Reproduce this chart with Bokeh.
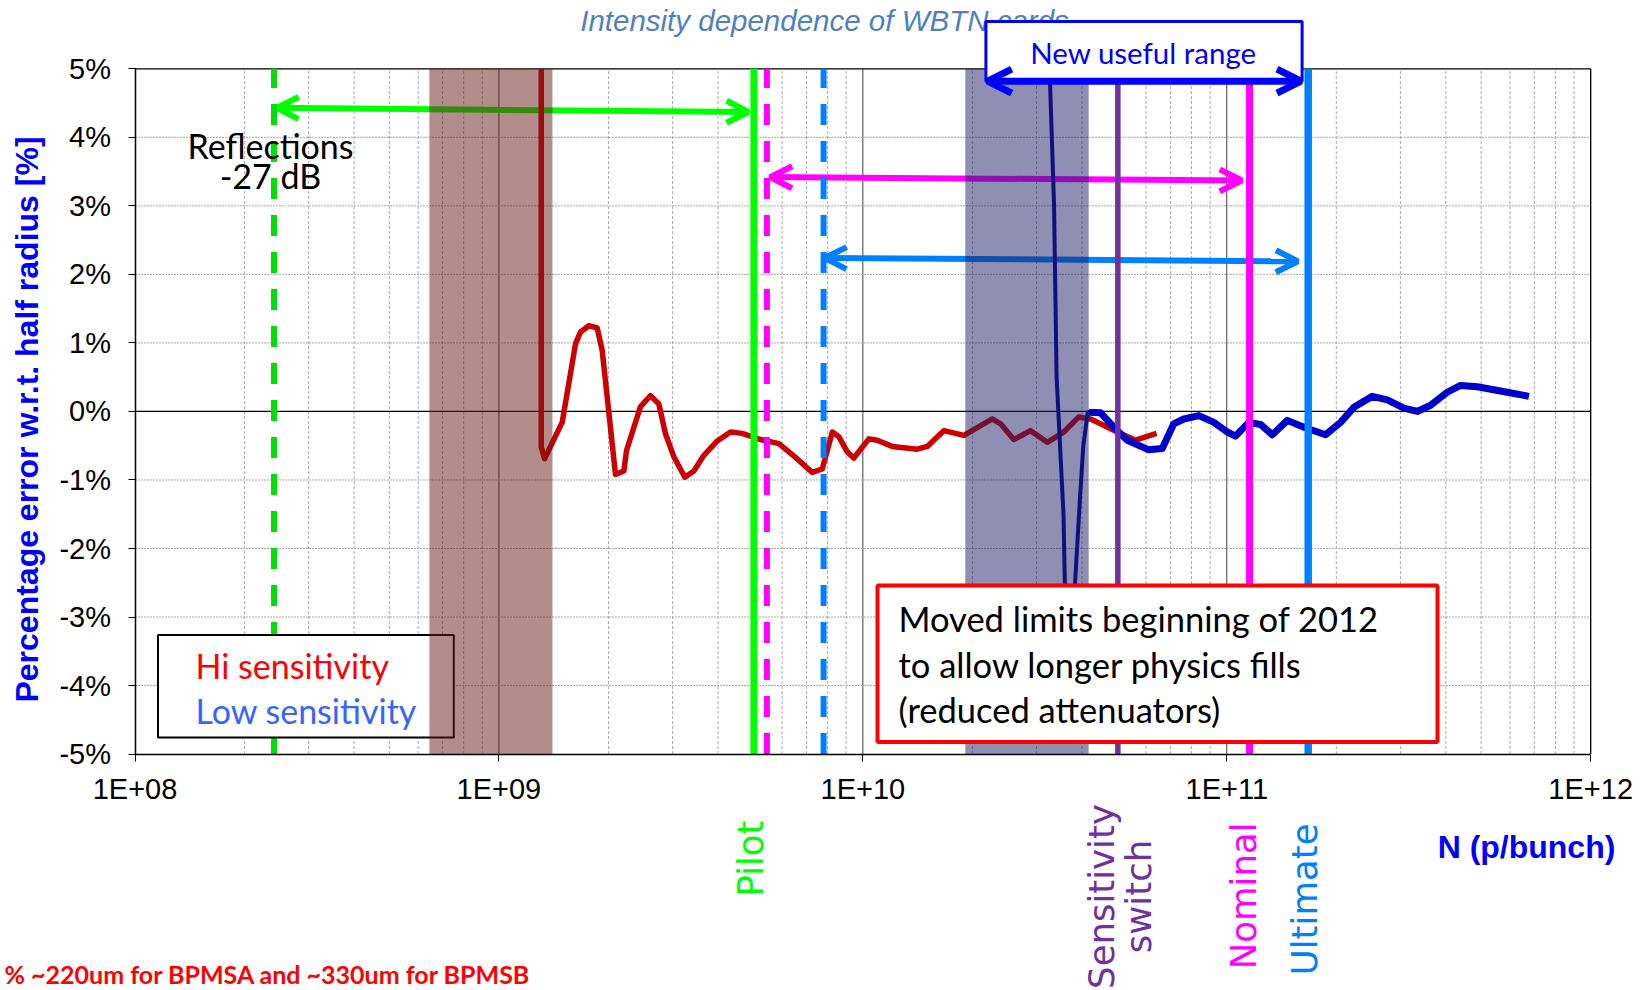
import math
from bokeh.plotting import figure
from bokeh.models import (Range1d, FixedTicker, CustomJSTickFormatter, Label,
                          Arrow, OpenHead)
from bokeh.embed import file_html
from bokeh.resources import INLINE

# ---------------- data ----------------
# Hi sensitivity card (red) : bunch intensity N [p/bunch] and error [%]
hi_N = [1.307e9, 1.307e9, 1.335e9, 1.492e9, 1.624e9, 1.676e9, 1.766e9, 1.862e9,
        1.922e9, 2.091e9, 2.204e9, 2.242e9, 2.449e9, 2.609e9, 2.750e9, 2.870e9,
        3.024e9, 3.243e9, 3.433e9, 3.658e9, 3.981e9, 4.329e9, 4.663e9, 5.235e9,
        5.878e9, 6.531e9, 7.262e9, 7.735e9, 8.244e9, 8.595e9, 9.060e9, 9.447e9,
        1.039e10, 1.095e10, 1.204e10, 1.411e10, 1.503e10, 1.669e10, 1.895e10,
        2.268e10, 2.390e10, 2.599e10, 2.890e10, 3.212e10, 3.567e10, 3.923e10,
        4.224e10, 4.500e10, 5.003e10, 5.616e10, 6.414e10]
hi_err = [5.0, -0.52, -0.69, -0.16, 0.99, 1.16, 1.25, 1.22, 0.89, -0.92, -0.87,
          -0.57, 0.07, 0.23, 0.11, -0.33, -0.66, -0.96, -0.87, -0.64, -0.43,
          -0.30, -0.32, -0.41, -0.47, -0.67, -0.89, -0.84, -0.30, -0.37, -0.59,
          -0.68, -0.40, -0.42, -0.51, -0.55, -0.51, -0.28, -0.35, -0.11, -0.18,
          -0.41, -0.28, -0.45, -0.30, -0.08, -0.11, -0.18, -0.30, -0.42, -0.32]

# Low sensitivity card below its range (dark navy, off scale)
lowin_N = [3.259e10, 3.353e10, 3.407e10, 3.559e10, 3.605e10, 3.698e10,
           3.793e10, 3.829e10, 3.947e10, 4.034e10, 4.152e10, 4.178e10]
lowin_err = [5.0, 3.0, 0.5, -1.5, -3.0, -4.7, -3.0, -2.5, -1.3, -0.5, 0.0, -0.01]

# Low sensitivity card (blue)
lo_N = [4.178e10, 4.500e10, 4.894e10, 5.328e10, 6.108e10, 6.647e10, 7.152e10,
        7.618e10, 8.381e10, 9.216e10, 1.003e11, 1.057e11, 1.150e11, 1.238e11,
        1.334e11, 1.467e11, 1.629e11, 1.868e11, 2.054e11, 2.235e11, 2.510e11,
        2.761e11, 3.066e11, 3.338e11, 3.631e11, 4.035e11, 4.390e11, 4.880e11,
        5.900e11, 6.766e11]
lo_err = [-0.01, -0.02, -0.23, -0.42, -0.56, -0.54, -0.18, -0.11, -0.06, -0.16,
          -0.30, -0.36, -0.16, -0.19, -0.34, -0.13, -0.23, -0.34, -0.16, 0.06,
          0.22, 0.17, 0.05, 0.00, 0.09, 0.28, 0.38, 0.36, 0.28, 0.22]

# intensity markers
reflections_N = 2.41e8
pilot_N = 5.02e9
pilot_limit_N = 5.45e9
low_limit_N = 7.8e9
switch_N = 5.02e10
nominal_N = 1.155e11
ultimate_N = 1.674e11
band_brown = [6.44e8, 1.403e9]
band_navy = [1.912e10, 4.174e10]

# range arrows: (N_start, err_start, N_end, err_end)
arrow_green = [2.45e8, 4.43, 4.85e9, 4.37]
arrow_magenta = [5.56e9, 3.42, 1.099e11, 3.37]
arrow_blue = [7.85e9, 2.24, 1.568e11, 2.19]
arrow_new = [2.203e10, 4.82, 1.599e11, 4.82]

x_ticks = [1e8, 1e9, 1e10, 1e11, 1e12]
y_ticks = [-5, -4, -3, -2, -1, 0, 1, 2, 3, 4, 5]
minor_N = [k * 10 ** e for e in range(8, 12) for k in range(2, 10)]
decade_N = [1e9, 1e10, 1e11]

# ---------------- layout ----------------
W, H = 1648, 990
PPD = 363.925   # pixels per decade
PPP = 68.53     # pixels per percent
X0 = 134.5      # canvas x of 1E+08
Y5 = 68.3       # canvas y of 5 %

x_start = 10 ** (8 - X0 / PPD)
x_end = 10 ** (8 + (W - X0) / PPD)
y_end = 5 + Y5 / PPP
y_start = 5 - (H - Y5) / PPP


def X(px):  # canvas pixel -> data N
    return 10 ** (8 + (px - X0) / PPD)


def Y(py):  # canvas pixel -> data %
    return 5 - (py - Y5) / PPP


p = figure(width=W, height=H, x_axis_type="log",
           x_range=Range1d(x_start, x_end), y_range=Range1d(y_start, y_end),
           output_backend="svg", toolbar_location=None, tools="",
           min_border=0, outline_line_color=None)
p.xgrid.visible = False
p.ygrid.visible = False
p.background_fill_color = "white"
p.border_fill_color = "white"

# grid
p.segment(x0=minor_N, x1=minor_N, y0=-5, y1=5, line_color="#A8A8A8",
          line_width=1, line_dash="3 2", level="image")
p.segment(x0=decade_N, x1=decade_N, y0=-5, y1=5, line_color="#404040",
          line_width=1, level="image")
hgrid = [t for t in y_ticks if t not in (-5, 0, 5)]
p.segment(x0=x_ticks[0], x1=x_ticks[-1], y0=hgrid, y1=hgrid,
          line_color="#A8A8A8", line_width=1, line_dash="2 1", level="image")
p.segment(x0=x_ticks[0], x1=x_ticks[-1], y0=[0, 5], y1=[0, 5],
          line_color="black", line_width=1.3, level="image")
p.segment(x0=x_ticks[-1], x1=x_ticks[-1], y0=-5, y1=5,
          line_color="black", line_width=1.3, level="image")

# axes
xa = p.xaxis[0]
xa.fixed_location = -5
xa.bounds = (x_ticks[0], x_ticks[-1])
xa.ticker = FixedTicker(ticks=x_ticks, minor_ticks=[])
xa.formatter = CustomJSTickFormatter(code="""
const e = Math.round(Math.log10(tick));
return '1E+' + (e < 10 ? '0' + e : '' + e);""")
ya = p.yaxis[0]
ya.fixed_location = x_ticks[0]
ya.bounds = (-5, 5)
ya.ticker = FixedTicker(ticks=y_ticks, minor_ticks=[])
ya.formatter = CustomJSTickFormatter(code="return tick.toFixed(0) + '%';")
for ax, stand in ((xa, 12), (ya, 17)):
    ax.axis_line_color = "black"
    ax.axis_line_width = 1.5
    ax.major_tick_out = 7
    ax.major_tick_in = 0
    ax.major_tick_line_color = "black"
    ax.minor_tick_line_color = None
    ax.major_label_text_font = "Liberation Sans"
    ax.major_label_text_font_size = "29px"
    ax.major_label_text_color = "black"
    ax.major_label_standoff = stand

# arrows (under the shaded bands)
for (xs, ys, xe, ye), col in ((arrow_green, "#00FF00"),
                              (arrow_magenta, "#FF00FF"),
                              (arrow_blue, "#0080FF")):
    p.add_layout(Arrow(x_start=xs, y_start=ys, x_end=xe, y_end=ye,
                       line_color=col, line_width=6, level="underlay",
                       start=OpenHead(size=22, line_color=col, line_width=6),
                       end=OpenHead(size=22, line_color=col, line_width=6)))

# curves
p.line(hi_N, hi_err, line_color="#CC0000", line_width=5.5, line_join="round")
p.line(lowin_N, lowin_err, line_color="#000099", line_width=4)
p.line(lo_N, lo_err, line_color="#0000CC", line_width=7, line_join="round")

# vertical marker lines
p.segment(x0=reflections_N, x1=reflections_N, y0=-5, y1=5, line_color="#00E000",
          line_width=6, line_dash="21 16")
p.segment(x0=pilot_limit_N, x1=pilot_limit_N, y0=-5, y1=5, line_color="#FF00FF",
          line_width=6, line_dash="21 16")
p.segment(x0=low_limit_N, x1=low_limit_N, y0=-5, y1=5, line_color="#0080FF",
          line_width=6, line_dash="21 16")
p.segment(x0=pilot_N, x1=pilot_N, y0=-5, y1=5, line_color="#00FF00", line_width=7)
p.segment(x0=switch_N, x1=switch_N, y0=-5, y1=5, line_color="#7030A0", line_width=5.5)
p.segment(x0=nominal_N, x1=nominal_N, y0=-5, y1=5, line_color="#FF00FF", line_width=7)
p.segment(x0=ultimate_N, x1=ultimate_N, y0=-5, y1=5, line_color="#0080FF", line_width=7.5)

# legend box
p.quad(left=X(157.5), right=X(453.3), top=Y(634.5), bottom=Y(737),
       fill_color="white", line_color="black", line_width=2)

# shaded bands
p.quad(left=band_brown[0], right=band_brown[1], bottom=-5, top=5,
       fill_color="#671919", fill_alpha=0.5, line_color=None)
p.quad(left=band_navy[0], right=band_navy[1], bottom=-5, top=5,
       fill_color="#1F1F68", fill_alpha=0.5, line_color=None)

# note box
p.quad(left=X(877), right=X(1437), top=Y(585), bottom=Y(741.5),
       fill_color="white", line_color="#FF0000", line_width=4)

# "New useful range" box
p.quad(left=X(985.4), right=X(1301.6), top=Y(21), bottom=Y(81),
       fill_color="white", line_color="#0000FF", line_width=3)
xs, ys, xe, ye = arrow_new
p.add_layout(Arrow(x_start=xs, y_start=ys, x_end=xe, y_end=ye,
                   line_color="#0000FF", line_width=7,
                   start=OpenHead(size=24, line_color="#0000FF", line_width=7),
                   end=OpenHead(size=24, line_color="#0000FF", line_width=7)))


def lab(text, px, py, font="Lato", size="34px", color="black", align="left",
        baseline="middle", style="normal", angle=0.0, level="annotation"):
    p.add_layout(Label(x=X(px), y=Y(py), text=text, text_font=font,
                       text_font_size=size, text_color=color, text_align=align,
                       text_baseline=baseline, text_font_style=style,
                       angle=angle, level=level))


lab("Intensity dependence of WBTN cards", 824, 20, font="Liberation Sans",
    size="29.5px", color="#4F81BD", align="center", style="italic", level="underlay")
lab("New useful range", 1143, 52, size="29.5px", color="#0000FF", align="center")
lab("Reflections", 270, 145, size="34px", align="center")
lab("-27 dB", 270, 175, size="34px", align="center")
lab("Hi sensitivity", 195, 665, size="34px", color="#FF0000")
lab("Low sensitivity", 195, 710, size="34px", color="#3366FF")
lab("Moved limits beginning of 2012", 898, 618, size="34.5px")
lab("to allow longer physics fills", 898, 664, size="34.5px")
lab("(reduced attenuators)", 898, 709, size="34.5px")
lab("Percentage error w.r.t. half radius [%]", 26, 419, font="Liberation Sans",
    size="32px", color="#0000FF", align="center", style="bold", angle=math.pi / 2)
lab("N (p/bunch)", 1526, 846, font="Liberation Sans", size="32px",
    color="#0000FF", align="center", style="bold")
lab("Pilot", 750, 820, font="DejaVu Sans", size="35.5px", color="#00FF00",
    align="right", angle=math.pi / 2)
lab("Sensitivity", 1101, 896, font="DejaVu Sans", size="35.5px", color="#7030A0",
    align="center", angle=math.pi / 2)
lab("switch", 1138, 896, font="DejaVu Sans", size="35.5px", color="#7030A0",
    align="center", angle=math.pi / 2)
lab("Nominal", 1243, 822, font="DejaVu Sans", size="35.5px", color="#FF00FF",
    align="right", angle=math.pi / 2)
lab("Ultimate", 1303.5, 823, font="DejaVu Sans", size="35.5px", color="#0080FF",
    align="right", angle=math.pi / 2)
lab("% ~220um for BPMSA and ~330um for BPMSB", 4, 973, size="25px",
    color="#FF0000", align="left", baseline="alphabetic", style="bold")

open("out.html", "w").write(file_html(p, INLINE))
